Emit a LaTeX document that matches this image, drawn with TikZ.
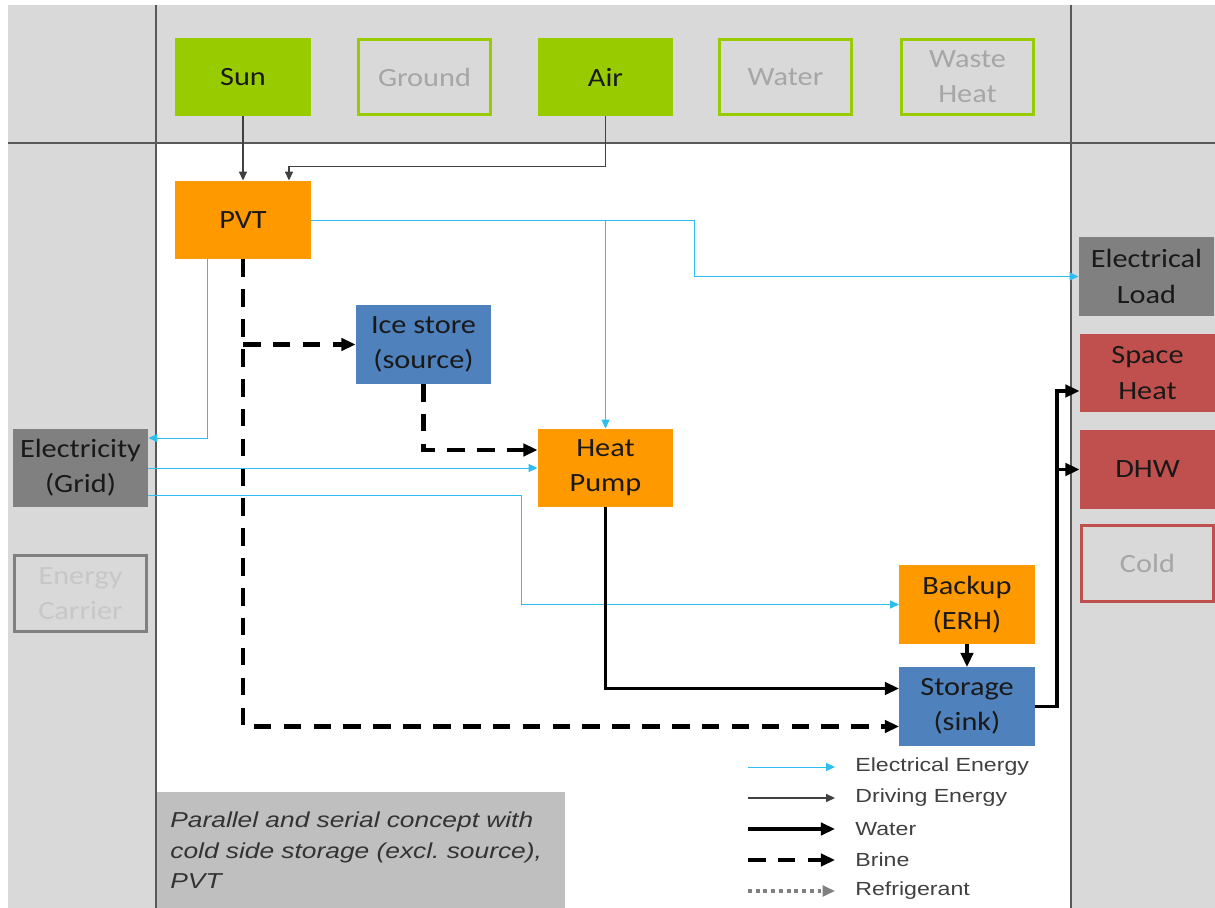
\documentclass[tikz,border=0pt]{standalone}
\usepackage{fontspec}
\setmainfont{Carlito}[FakeStretch=1.15]
\newfontfamily\legendfont{Liberation Sans}[FakeStretch=1.22]
\usetikzlibrary{arrows.meta,calc}
\definecolor{srcgreen}{RGB}{153,204,0}
\definecolor{hporange}{RGB}{255,153,0}
\definecolor{storeblue}{RGB}{79,129,189}
\definecolor{loadred}{RGB}{192,80,77}
\definecolor{panelgray}{RGB}{217,217,217}
\definecolor{gridgray}{RGB}{128,128,128}
\definecolor{elecblue}{RGB}{45,190,240}
\definecolor{captgray}{RGB}{191,191,191}

\begin{document}
\begin{tikzpicture}[x=0.02cm,y=-0.02cm,
  box/.style={minimum width=2.72cm,minimum height=1.58cm,inner sep=0pt,outer sep=0pt,align=center,font=\fontsize{15}{20}\selectfont,text=black!90},
  used/.style={box,fill=#1},
  unused/.style={box,fill=panelgray,draw=#1,line width=1.7pt,text=black!35,minimum width=2.65cm,minimum height=1.51cm},
  elec/.style={elecblue,line width=0.55pt,-{Triangle[length=5pt,width=4.5pt]}},
  drive/.style={black!75,line width=0.8pt,-{Triangle[length=5pt,width=4.5pt]}},
  water/.style={black,line width=2.2pt,-{Triangle[length=8pt,width=7pt]}},
  brine/.style={black,line width=2.3pt,dash pattern=on 10pt off 7pt,-{Triangle[length=8pt,width=7pt]}},
  refrig/.style={black!50,line width=2pt,dash pattern=on 2.2pt off 2.2pt,-{Triangle[length=7pt,width=6pt]}},
  frame/.style={black!65,line width=1.1pt},
  legtext/.style={anchor=west,inner sep=0pt,font=\legendfont\fontsize{10.8}{13}\selectfont,text=black!75},
  caption/.style={anchor=north west,fill=captgray,minimum width=8.16cm,minimum height=2.32cm,text width=7.64cm,inner xsep=0.26cm,align=left,font=\legendfont\itshape\fontsize{12.3}{17.3}\selectfont,text=black!80}]
\useasboundingbox (0,0) rectangle (1215,908);
% panels
\fill[panelgray] (8,5) rectangle (1215,908);
\fill[white] (156,143) rectangle (1071,908);
\draw[frame] (156,5) -- (156,908);
\draw[frame] (1071,5) -- (1071,908);
\draw[frame] (8,143) -- (1215,143);
% sources
\node[used=srcgreen] (sun) at (243,77) {Sun};
\node[unused=srcgreen] (ground) at (424.5,77) {Ground};
\node[used=srcgreen] (air) at (605.5,77) {Air};
\node[unused=srcgreen] (watersrc) at (785.5,77) {Water};
\node[unused=srcgreen] (waste) at (967.5,77) {Waste\\Heat};
% components
\node[used=hporange] (pvt) at (243,220) {PVT};
\node[used=storeblue] (ice) at (423.5,344.5) {Ice store\\(source)};
\node[used=hporange] (hp) at (605.5,468) {Heat\\Pump};
\node[used=hporange] (backup) at (967,604.5) {Backup\\(ERH)};
\node[used=storeblue] (storage) at (967,706.5) {Storage\\(sink)};
% carriers and loads
\node[used=gridgray] (grid) at (80.5,468) {Electricity\\(Grid)};
\node[unused=black!50,text=black!22] (carrier) at (80.5,593.5) {Energy\\Carrier};
\node[used=gridgray] (load) at (1146.5,276.5) {Electrical\\Load};
\node[used=loadred] (space) at (1147.5,373) {Space\\Heat};
\node[used=loadred] (dhw) at (1147.5,469.5) {DHW};
\node[unused=loadred] (cold) at (1147.5,563.5) {Cold};
%
\draw[drive] (sun.south) -- (pvt.north);
\coordinate (airbend) at ($(pvt.north)+(46,-14)$);
\draw[drive] (air.south) |- (airbend) -- (airbend |- pvt.north);
%
\draw[elec] (pvt.east) -| ($(load.west)+(-384,0)$) -- (load.west);
\draw[elec] (pvt.east -| hp.north) -- (hp.north);
\draw[elec] ($(pvt.south west)+(32,0)$) |- ($(grid.east)+(0,-30)$);
\draw[elec] (grid.east) -- (hp.west);
\draw[elec] ($(grid.east)+(0,27)$) -| ($(backup.west)+(-378,0)$) -- (backup.west);
%
\draw[brine] (pvt.south) |- ($(storage.west)+(0,20)$);
\draw[brine] (pvt.south |- ice.west) -- (ice.west);
\draw[brine] (ice.south) |- ($(hp.west)+(0,-18)$);
%
\draw[water] (hp.south) |- ($(storage.west)+(0,-18)$);
\draw[water] (backup.south) -- (storage.north);
\coordinate (hotbus) at ($(storage.east)+(22,0)$);
\draw[water] (storage.east) -- (hotbus) |- ($(space.west)+(0,18)$);
\draw[water] (hotbus |- dhw.west) -- (dhw.west);
% legend
\foreach \sty/\txt [count=\i] in {elec/Electrical Energy,drive/Driving Energy,water/Water,brine/Brine,refrig/Refrigerant}{
  \node[legtext] (leg\i) at (855,736+31*\i) {\txt};
  \coordinate (legstart\i) at (748,736+31*\i);
  \draw[\sty] (legstart\i) -- ($(leg\i.west)+(-20,0)$);
}
\node[caption] (concept) at (157,792) {Parallel and serial concept with cold side storage (excl.\ source), PVT};
\end{tikzpicture}
\end{document}
